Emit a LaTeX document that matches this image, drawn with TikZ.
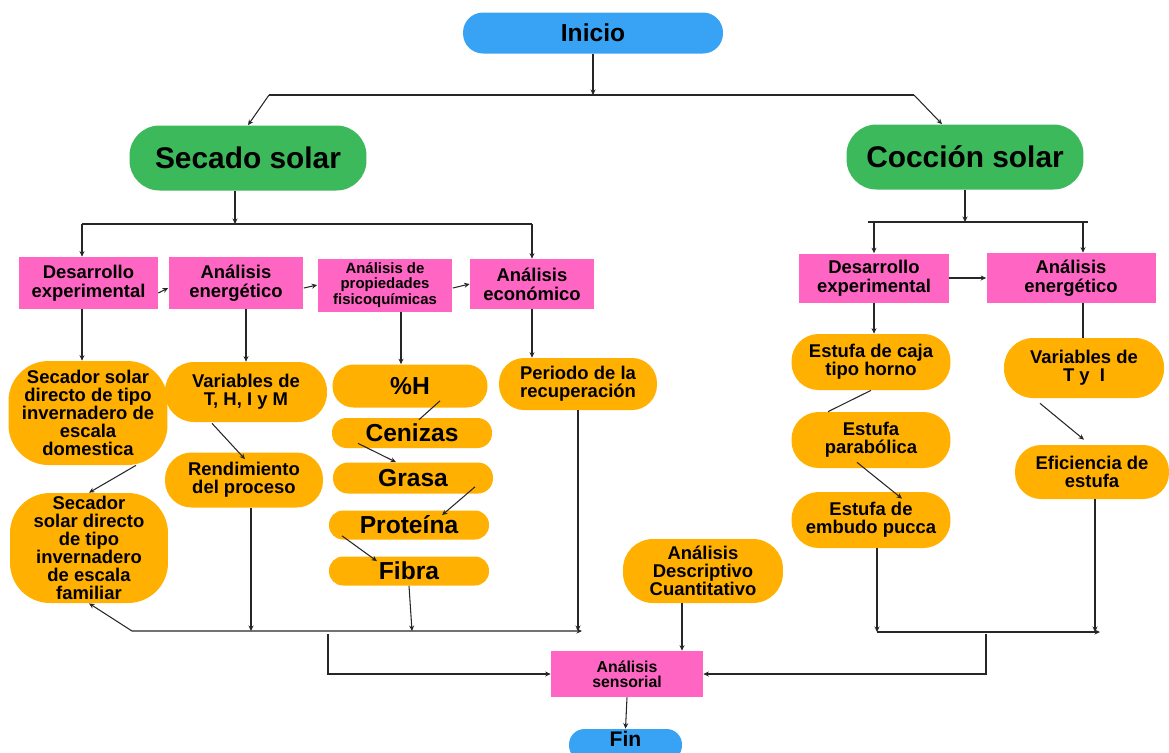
\documentclass[tikz,border=0pt]{standalone}
\usepackage{fontspec}
\setmainfont{Liberation Sans}
\usetikzlibrary{arrows.meta,positioning,calc}
\definecolor{nodeblue}{HTML}{38A3F4}
\definecolor{nodegreen}{HTML}{3CB95A}
\definecolor{nodepink}{HTML}{FF66C4}
\definecolor{nodeorange}{HTML}{FFB000}

\begin{document}
\begin{tikzpicture}[
  x=0.02cm, y=-0.02cm,
  box/.style={align=center, inner sep=1pt, font=\bfseries\fontsize{10.5}{10.8}\selectfont},
  startend/.style={box, fill=nodeblue, font=\bfseries\fontsize{14}{16}\selectfont},
  branch/.style={box, fill=nodegreen, minimum width=4.74cm, minimum height=1.3cm, rounded corners=0.6cm, font=\bfseries\fontsize{17}{20}\selectfont},
  pinkbox/.style={box, fill=nodepink},
  orabox/.style={box, fill=nodeorange, font=\bfseries\fontsize{10.5}{10.3}\selectfont},
  itembox/.style={box, fill=nodeorange, minimum width=3.2cm, font=\bfseries\fontsize{14}{16}\selectfont},
  ln/.style={line width=0.6pt, draw=black!85},
  arr/.style={ln, -{Stealth[length=1.1mm,width=1mm]}},
  biarr/.style={ln, {Stealth[length=1.1mm,width=1mm]}-{Stealth[length=1.1mm,width=1mm]}},
]
  \useasboundingbox (0,0) rectangle (1169,752);
  \clip (0,0) rectangle (1169,752);

  % Top: start + the two branches
  \node[startend, minimum width=5.2cm, minimum height=0.82cm, rounded corners=0.4cm] (inicio) at (593,33) {Inicio};
  \node[branch] (secado) at (248,158) {Secado solar};
  \node[branch] (coccion) at (965,157) {Cocción solar};

  % Row 1: analyses of the drying branch
  \node[pinkbox, minimum width=2.78cm, minimum height=1.04cm] (desL) at (88.5,283) {Desarrollo\\experimental};
  \node[pinkbox, minimum width=2.7cm, minimum height=1.04cm] (eneL) at (236,283) {Análisis\\energético};
  \node[pinkbox, minimum width=2.7cm, minimum height=1.06cm, font=\bfseries\fontsize{8.5}{8.6}\selectfont] (prop) at (385,285) {Análisis de\\propiedades\\fisicoquímicas};
  \node[pinkbox, minimum width=2.48cm, minimum height=1.0cm] (eco) at (532,284) {Análisis\\económico};

  % Row 1: analyses of the cooking branch
  \node[pinkbox, minimum width=3.0cm, minimum height=0.98cm] (desR) at (874,278) {Desarrollo\\experimental};
  \node[pinkbox, minimum width=3.38cm, minimum height=1.0cm] (eneR) at (1071,278) {Análisis\\energético};

  % Row 2: results of the drying branch
  \node[orabox, minimum width=3.18cm, minimum height=2.08cm, rounded corners=0.8cm] (dom) at (88,413) {Secador solar\\directo de tipo\\invernadero de\\escala\\domestica};
  \node[orabox, minimum width=3.16cm, minimum height=2.2cm, rounded corners=0.8cm] (fam) at (89,548) {Secador\\solar directo\\de tipo\\invernadero\\de escala\\familiar};
  \node[orabox, minimum width=3.24cm, minimum height=1.2cm, rounded corners=0.58cm] (varL) at (246,392) {Variables de\\T, H, I y M};
  \node[orabox, minimum width=3.16cm, minimum height=1.1cm, rounded corners=0.53cm] (rend) at (244,480) {Rendimiento\\del proceso};
  \node[itembox, minimum width=3.1cm, minimum height=0.86cm, rounded corners=0.42cm] (pH) at (410,386) {\%H};
  \node[itembox, minimum height=0.6cm, rounded corners=0.29cm] (cen) at (412,433) {Cenizas};
  \node[itembox, minimum height=0.62cm, rounded corners=0.3cm] (gra) at (413,478) {Grasa};
  \node[itembox, minimum height=0.58cm, rounded corners=0.28cm] (pro) at (409,525) {Proteína};
  \node[itembox, minimum height=0.58cm, rounded corners=0.28cm] (fib) at (409,571) {Fibra};
  \node[orabox, minimum width=3.16cm, minimum height=1.04cm, rounded corners=0.5cm] (per) at (578,384) {Periodo de la\\recuperación};

  % Row 2: results of the cooking branch
  \node[orabox, minimum width=3.18cm, minimum height=1.12cm, rounded corners=0.54cm] (caja) at (871,362) {Estufa de caja\\tipo horno};
  \node[orabox, minimum width=3.18cm, minimum height=1.12cm, rounded corners=0.54cm] (para) at (871,440) {Estufa\\parabólica};
  \node[orabox, minimum width=3.18cm, minimum height=1.12cm, rounded corners=0.54cm] (emb) at (871,520) {Estufa de\\embudo pucca};
  \node[orabox, minimum width=3.2cm, minimum height=1.2cm, rounded corners=0.58cm] (varR) at (1084,368) {Variables de\\T~y~~I};
  \node[orabox, minimum width=3.08cm, minimum height=1.08cm, rounded corners=0.52cm] (efi) at (1092,472) {Eficiencia de\\estufa};

  % Bottom: sensory analysis + end
  \node[orabox, minimum width=3.2cm, minimum height=1.28cm, rounded corners=0.6cm] (adc) at (703,571) {Análisis\\Descriptivo\\Cuantitativo};
  \node[pinkbox, minimum width=3.04cm, minimum height=0.92cm, font=\bfseries\fontsize{9}{8.8}\selectfont] (sens) at (627,674) {Análisis\\sensorial};
  \node[startend, minimum width=2.26cm, minimum height=0.64cm, rounded corners=0.31cm, text height=0.3cm, text depth=0.26cm, font=\bfseries\fontsize{12}{14}\selectfont] (fin) at (625.5,745) {Fin};

  % Junction points
  \coordinate (top) at (593,95);
  \coordinate (topL) at (269,95);
  \coordinate (topR) at (914,95);
  \coordinate (sJ) at (235,224);
  \coordinate (sL) at (82,224);
  \coordinate (sR) at (532,224);
  \coordinate (cJ) at (965,222);
  \coordinate (cL) at (868,222);
  \coordinate (cR) at (1088,222);
  \coordinate (bL) at (132,631);
  \coordinate (bR) at (582,631);
  \coordinate (bJ) at (328,634);
  \coordinate (rL) at (877,632);
  \coordinate (rR) at (1100,632);
  \coordinate (rJ) at (986,634);

  % Edges: start
  \draw[arr] (inicio.south) -- (top);
  \draw[ln] (topL) -- (topR);
  \draw[arr] (topL) -- (secado.north);
  \draw[arr] (topR) -- ($(coccion.north)+(-23,0)$);

  % Edges: drying branch
  \draw[arr] (secado.south -| sJ) -- (sJ);
  \draw[ln] (sL) -- (sR);
  \draw[arr] (sL) -- (sL |- desL.north);
  \draw[arr] (sR) -- (sR |- eco.north);
  \draw[arr] ($(desL.east)+(0,10)$) -- ($(eneL.west)+(0,5)$);
  \draw[arr] ($(eneL.east)+(0,5)$) -- (prop.west);
  \draw[arr] ($(prop.east)+(0,3)$) -- (eco.west);
  \draw[arr] (sL |- desL.south) -- (sL |- dom.north);
  \draw[arr] ($(eneL.south)+(10,0)$) -- (varL.north);
  \draw[arr] ($(prop.south)+(16,0)$) -- ($(pH.north)+(-9,0)$);
  \draw[arr] (eco.south) -- (eco.south |- per.north);
  \draw[arr] ($(dom.south)+(48,0)$) -- (fam.north);
  \draw[arr] ($(varL.south)+(-34,1)$) -- ($(rend.north)+(1,7)$);
  \draw[ln] ($(pH.south)+(30,-7)$) -- ($(cen.north)+(7,2)$);
  \draw[arr] ($(cen.south)+(-54,-5)$) -- ($(gra.north)+(-17,0)$);
  \draw[arr] ($(gra.south)+(62,-7)$) -- ($(pro.north)+(33,5)$);
  \draw[arr] ($(pro.south)+(-67,-4)$) -- ($(fib.north)+(-32,5)$);

  % Edges: drying results to sensory analysis
  \draw[biarr] (fam.south) -- (bL) -- (bR);
  \draw[arr] ($(rend.south)+(7,0)$) -- ($(rend.south |- bL)+(7,0)$);
  \draw[arr] (fib.south) -- ($(fib.south |- bL)+(3,0)$);
  \draw[arr] (per.south) -- (per.south |- bL);
  \draw[arr] (bJ) |- (sens.west);

  % Edges: cooking branch
  \draw[arr] (coccion.south) -- (cJ);
  \draw[ln] (cL) -- (cR);
  \draw[arr] (desR.north |- cL) -- (desR.north);
  \draw[arr] ($(eneR.north)+(12,-31)$) -- ($(eneR.north)+(12,0)$);
  \draw[arr] (desR.east) -- (eneR.west);
  \draw[arr] (desR.south) -- (desR.south |- caja.north);
  \draw[ln] ($(eneR.south)+(12,0)$) -- ($(eneR.south |- varR.north)+(12,0)$);
  \draw[ln] (caja.south) -- ($(para.north)+(-43,0)$);
  \draw[arr] ($(para.south)+(-14,-6)$) -- ($(emb.north)+(31,7)$);
  \draw[arr] ($(varR.south)+(-44,5)$) -- ($(efi.north)+(-8,-5)$);

  % Edges: cooking results to sensory analysis
  \draw[arr] ($(emb.south)+(6,0)$) -- (rL);
  \draw[arr] ($(efi.south)+(3,0)$) -- ($(efi.south |- rR)+(3,0)$);
  \draw[arr] (rL) -- (rR);
  \draw[arr] (rJ) |- (sens.east);

  % Edges: end
  \draw[arr] ($(adc.south)+(-21,0)$) -- ($(adc.south |- sens.north)+(-21,0)$);
  \draw[arr] (sens.south) -- (fin.north);
\end{tikzpicture}
\end{document}
